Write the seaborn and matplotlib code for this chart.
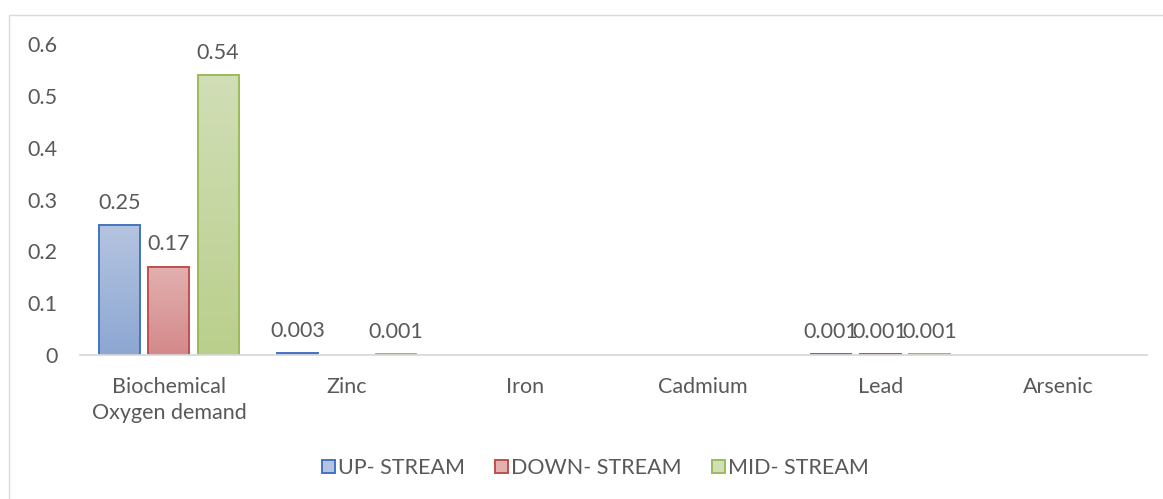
import numpy as np
import pandas as pd
import matplotlib
matplotlib.use("Agg")
import matplotlib.pyplot as plt
from matplotlib.patches import Patch, Rectangle
import seaborn as sns

# Data
categories = ["Biochemical\nOxygen demand", "Zinc", "Iron", "Cadmium", "Lead", "Arsenic"]
series = ["UP- STREAM", "DOWN- STREAM", "MID- STREAM"]
up_stream = [0.25, 0.003, np.nan, np.nan, 0.001, np.nan]
down_stream = [0.17, np.nan, np.nan, np.nan, 0.001, np.nan]
mid_stream = [0.54, 0.001, np.nan, np.nan, 0.001, np.nan]
y_ticks = [0, 0.1, 0.2, 0.3, 0.4, 0.5, 0.6]

df = pd.DataFrame({
    "param": categories * 3,
    "site": [s for s in series for _ in categories],
    "value": up_stream + down_stream + mid_stream,
})

edge_colors = ["#4472C4", "#C0504D", "#9BBB59"]
top_colors = ["#B4C4E0", "#E2B0AF", "#D1DEB6"]
bottom_colors = ["#8DA7D2", "#D4898A", "#BACF8C"]
text_color = "#595959"
fs = 15.5

sns.set_theme(style="white")
plt.rcParams["font.family"] = ["Lato", "DejaVu Sans"]

fig = plt.figure(figsize=(11.63, 4.99), dpi=100)
ax = fig.add_axes([80 / 1163, 1 - 355 / 499, (1147 - 80) / 1163, (355 - 44) / 499])

sns.barplot(data=df, x="param", y="value", hue="site", order=categories,
            hue_order=series, width=0.83, gap=0.17, ax=ax, legend=False,
            errorbar=None, palette=edge_colors)

# gradient fill per bar, like the Excel original
for cont, ec, tc, bc in zip(ax.containers, edge_colors, top_colors, bottom_colors):
    c1 = np.array(matplotlib.colors.to_rgb(tc))
    c2 = np.array(matplotlib.colors.to_rgb(bc))
    t = np.linspace(0, 1, 64)[:, None]
    grad = (c1 * (1 - t) + c2 * t)[:, None, :]
    for bar in cont:
        h = bar.get_height()
        if np.isnan(h) or h == 0:
            continue
        x0 = bar.get_x()
        w = bar.get_width()
        ax.imshow(grad, extent=[x0, x0 + w, 0, h], aspect="auto", zorder=1.5,
                  interpolation="bilinear")
        bar.set_facecolor("none")
        bar.set_edgecolor(ec)
        bar.set_linewidth(1.4)
        bar.set_zorder(2)
        # the Lead labels touch each other in the original too
        ax.annotate(f"{h:g}", (x0 + w / 2, h), xytext=(0, 9), textcoords="offset points",
                    ha="center", va="bottom", fontsize=fs, color=text_color,
                    annotation_clip=False)

ax.set_xlim(-0.5, len(categories) - 0.5)
ax.set_ylim(0, 0.6)
ax.set_yticks(y_ticks)
ax.set_yticklabels([f"{v:g}" for v in y_ticks])
ax.set_xlabel("")
ax.set_ylabel("")
ax.tick_params(axis="both", length=0, labelsize=fs, labelcolor=text_color)
ax.tick_params(axis="x", pad=16)
ax.tick_params(axis="y", pad=16)
for lab in ax.get_xticklabels():
    lab.set_linespacing(1.35)
for side in ["top", "right", "left"]:
    ax.spines[side].set_visible(False)
ax.spines["bottom"].set_color("#D9D9D9")
ax.spines["bottom"].set_linewidth(1.3)
ax.set_facecolor("none")

handles = [Patch(facecolor=tc, edgecolor=ec, linewidth=1.4, label=s)
           for s, ec, tc in zip(series, edge_colors, top_colors)]
fig.legend(handles=handles, loc="center", bbox_to_anchor=(0.512, 0.062), ncol=3,
           frameon=False, fontsize=fs, labelcolor=text_color, handlelength=0.6,
           handleheight=0.6, handletextpad=0.15, columnspacing=1.4)

# chart area border (only top and left edges show in the crop)
fig.add_artist(Rectangle((9 / 1163, -0.1), 1.2, 1 - 15 / 499 + 0.1,
                         transform=fig.transFigure, fill=False,
                         edgecolor="#D9D9D9", linewidth=1.0))

fig.savefig("out.png", dpi=100)
